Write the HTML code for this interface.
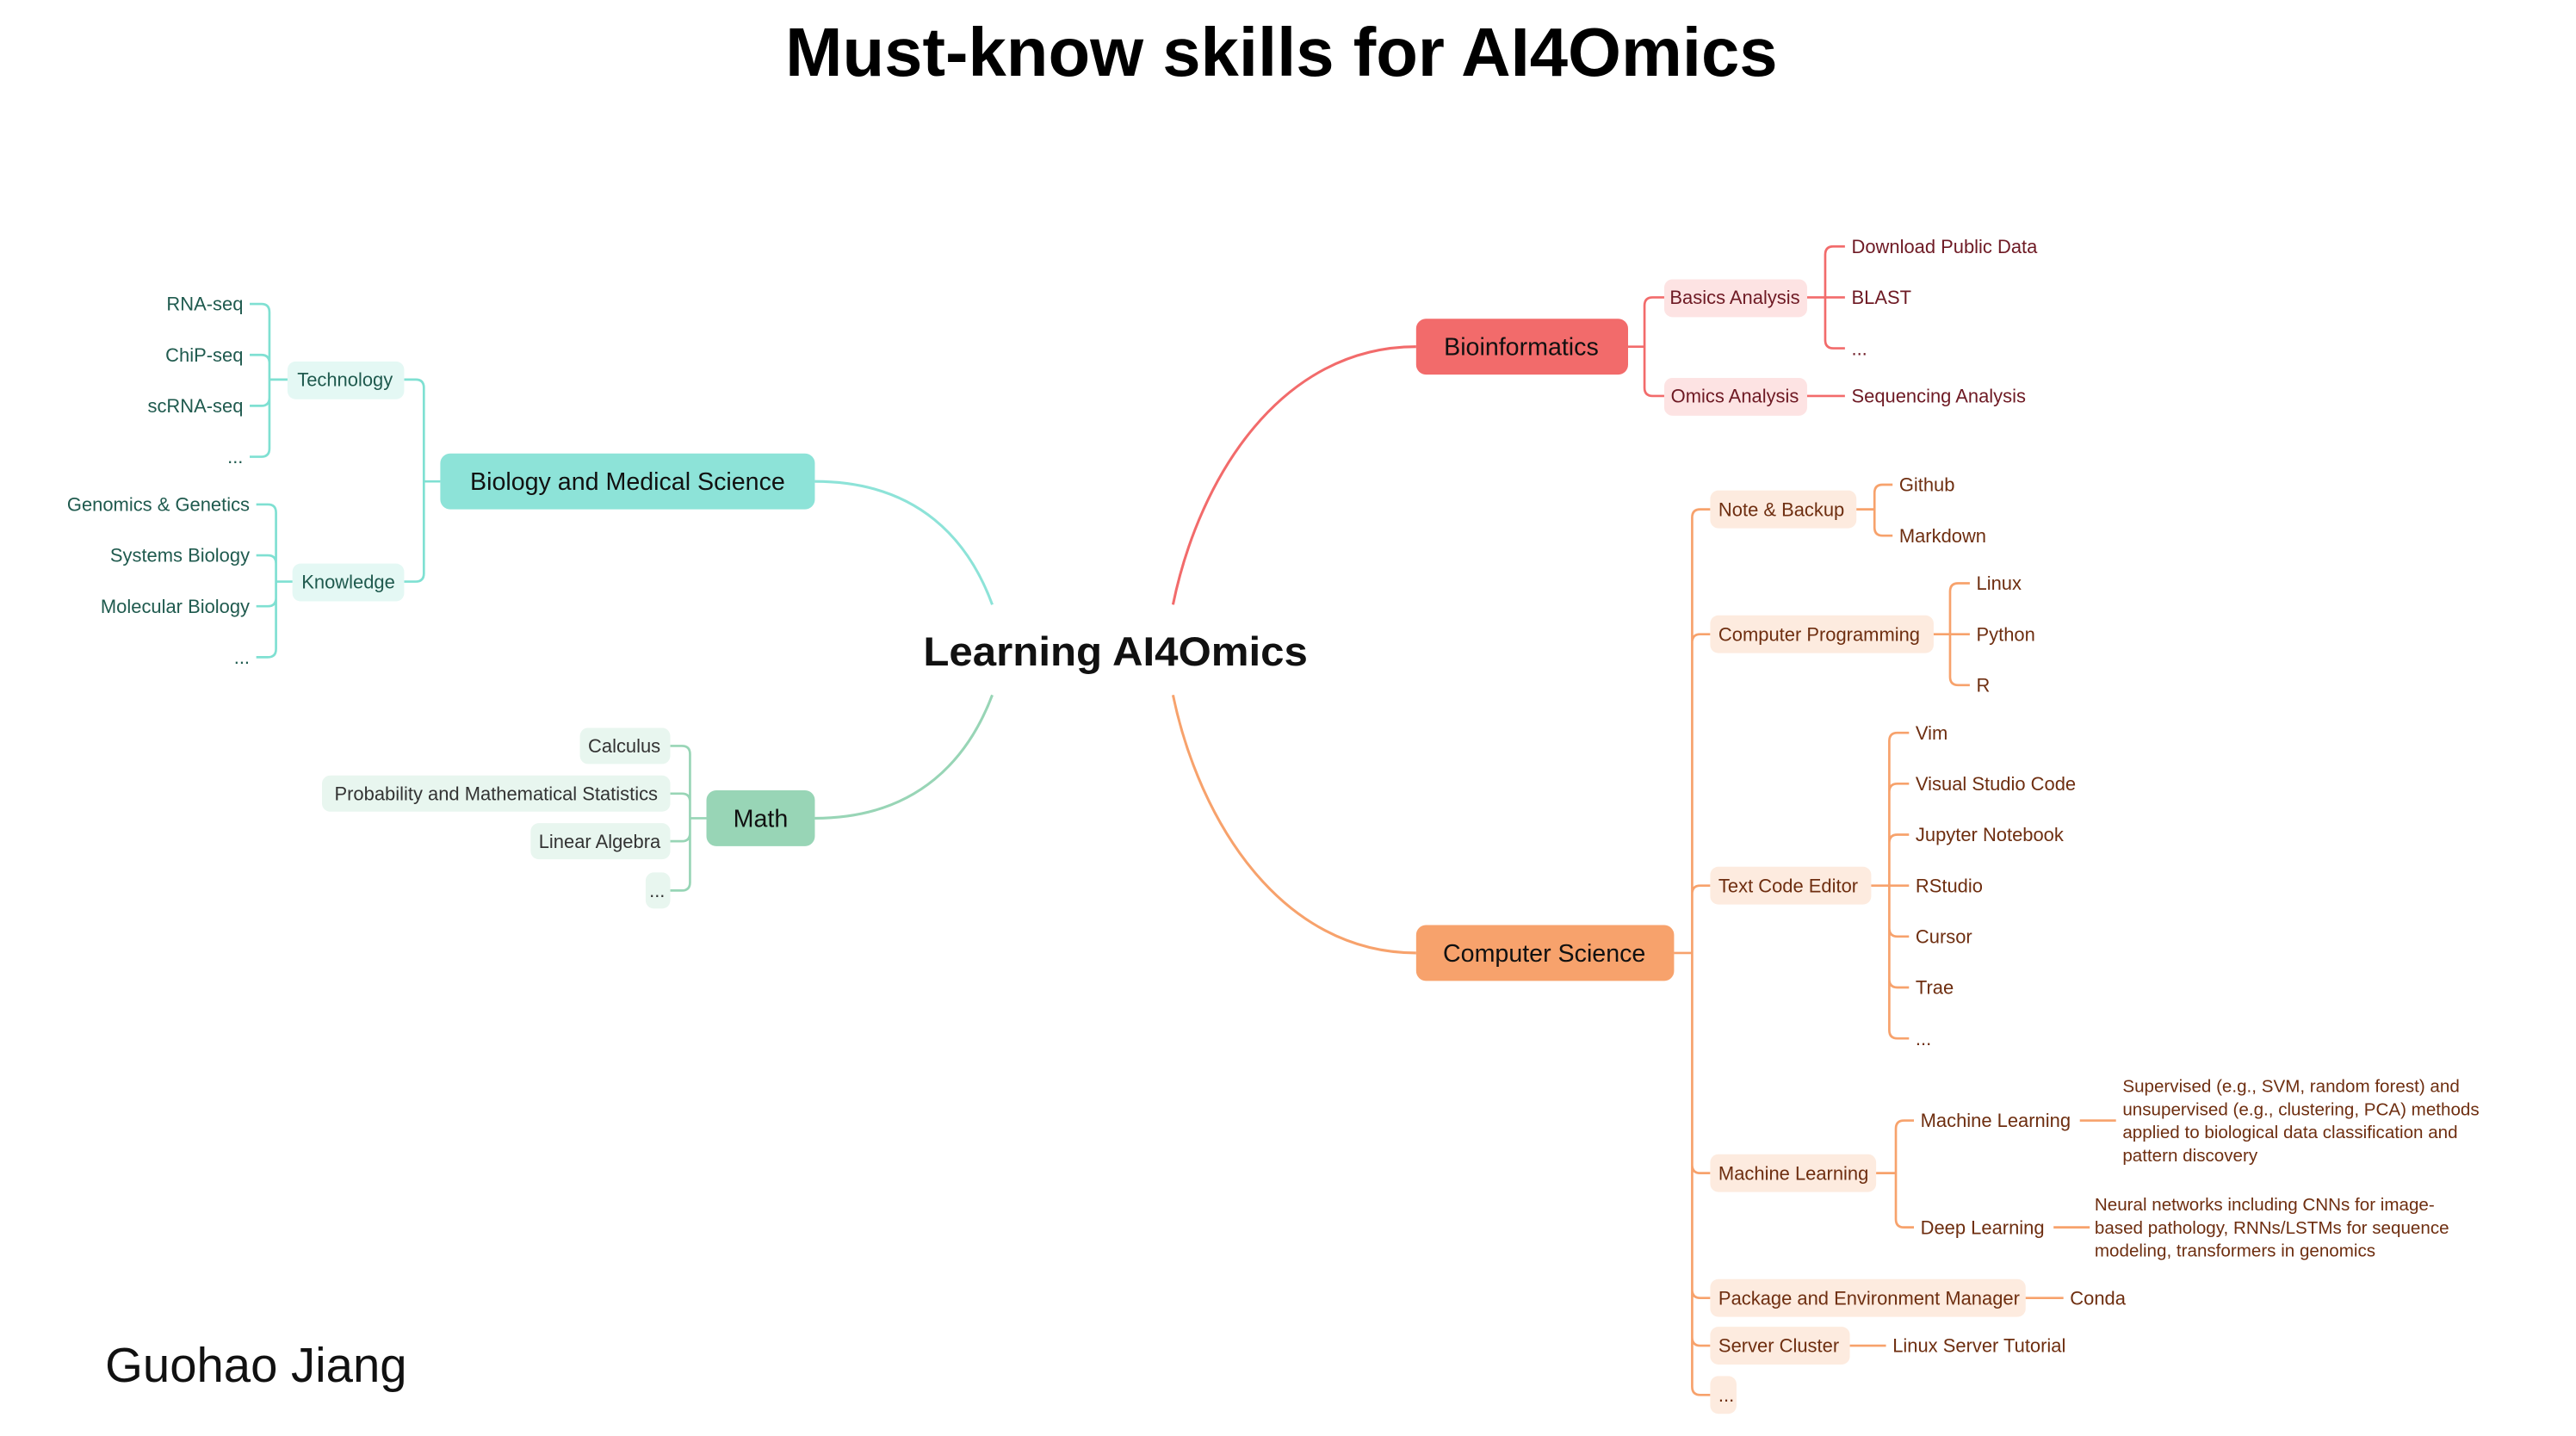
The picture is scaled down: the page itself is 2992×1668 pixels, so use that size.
<!DOCTYPE html>
<html><head><meta charset="utf-8"><style>
html,body{margin:0;padding:0;background:#fff;}
svg{display:block;}
text{font-family:"Liberation Sans",sans-serif;}
</style></head><body>
<svg id="s" width="2992" height="1668" viewBox="0 0 1568 874" preserveAspectRatio="none" xmlns="http://www.w3.org/2000/svg">
<text x="780" y="46" text-anchor="middle" font-size="42" font-weight="bold" fill="#000" textLength="604" lengthAdjust="spacingAndGlyphs">Must-know skills for AI4Omics</text>
<text x="679" y="405" text-anchor="middle" font-size="25" font-weight="bold" fill="#111" textLength="234" lengthAdjust="spacingAndGlyphs">Learning AI4Omics</text>
<text x="64" y="841" font-size="29.5" fill="#111">Guohao Jiang</text>
<path d="M496 293 C560 293 590 330 604 368" fill="none" stroke="#8de3d8" stroke-width="1.6"/>
<path d="M496 498 C560 498 590 460 604 423" fill="none" stroke="#98d5b6" stroke-width="1.6"/>
<path d="M714 368 C730 290 780 211 862 211" fill="none" stroke="#f26b6b" stroke-width="1.6"/>
<path d="M714 423 C730 500 780 580 862 580" fill="none" stroke="#f7a26c" stroke-width="1.6"/>
<g id="g"></g>
</svg>
<script>
var g=document.getElementById('g'),NS='http://www.w3.org/2000/svg';
function el(t,a,txt){var e=document.createElementNS(NS,t);for(var k in a)e.setAttribute(k,a[k]);if(txt)e.textContent=txt;g.appendChild(e);return e;}
function rect(x1,y1,x2,y2,f,r){el('rect',{x:x1,y:y1,width:x2-x1,height:y2-y1,rx:r||5,fill:f});}
function txt(x,y,s,sz,c,anc,w){el('text',{x:x,y:y+sz*0.35,'font-size':sz,fill:c,'text-anchor':anc||'start','font-weight':w||'normal'},s);}
function br(px,py,bx,kids,col,dir){var d='M'+px+' '+py+' H'+bx,r=5;
 kids.forEach(function(k){var cy=k[0],cx=k[1];
  if(Math.abs(cy-py)<1){d+=' M'+bx+' '+py+' H'+cx;return;}
  var sg=cy>py?1:-1;d+=' M'+bx+' '+py+' V'+(cy-sg*r)+' Q'+bx+' '+cy+' '+(bx+dir*r)+' '+cy+' H'+cx;});
 el('path',{d:d,fill:'none',stroke:col,'stroke-width':1.4});}
rect(268,276,496,310,'#8de3d8',6);txt(382,293,'Biology and Medical Science',15,'#111','middle');
rect(430,481,496,515,'#98d5b6',6);txt(463,498,'Math',15,'#111','middle');
rect(862,194,991,228,'#f26b6b',6);txt(926,211,'Bioinformatics',15,'#111','middle');
rect(862,563,1019,597,'#f7a26c',6);txt(940,580,'Computer Science',15,'#111','middle');
var T='#7fe0d2',TT='#1f5a4e',TF='#e4f8f4';
br(268,293,258,[[231,246],[354,246]],T,-1);
rect(175,220,246,243,TF,5);txt(210,231,'Technology',11.5,TT,'middle');
rect(178,343,246,366,TF,5);txt(212,354,'Knowledge',11.5,TT,'middle');
br(175,231,164,[[185,152],[216,152],[247,152],[278,152]],T,-1);
[['RNA-seq',185],['ChiP-seq',216],['scRNA-seq',247],['...',278]].forEach(function(a){txt(148,a[1],a[0],11.5,TT,'end');});
br(178,354,168,[[307,156],[338,156],[369,156],[400,156]],T,-1);
[['Genomics & Genetics',307],['Systems Biology',338],['Molecular Biology',369],['...',400]].forEach(function(a){txt(152,a[1],a[0],11.5,TT,'end');});
var M='#98d5b6',MF='#e8f6ef';
br(430,498,420,[[454,408],[483,408],[512,408],[542,408]],M,-1);
rect(353,443,408,465,MF,5);txt(380,454,'Calculus',11.5,'#333','middle');
rect(196,472,408,494,MF,5);txt(302,483,'Probability and Mathematical Statistics',11.5,'#333','middle');
rect(323,501,408,523,MF,5);txt(365,512,'Linear Algebra',11.5,'#333','middle');
rect(393,531,408,553,MF,5);txt(400,542,'...',11.5,'#333','middle');
var R='#f26b6b',RT='#6e1a24',RF='#fde3e3';
br(991,211,1001,[[181,1013],[241,1013]],R,1);
rect(1013,170,1100,193,RF,5);txt(1056,181,'Basics Analysis',11.5,RT,'middle');
rect(1013,230,1100,253,RF,5);txt(1056,241,'Omics Analysis',11.5,RT,'middle');
br(1100,181,1111,[[150,1123],[181,1123],[212,1123]],R,1);
txt(1127,150,'Download Public Data',11.5,RT);txt(1127,181,'BLAST',11.5,RT);txt(1127,212,'...',11.5,RT);
br(1100,241,1123,[],R,1);txt(1127,241,'Sequencing Analysis',11.5,RT);
var O='#f7a26c',OT='#6e2e10',OF='#fdebdf';
br(1019,580,1030,[[310,1041],[386,1041],[539,1041],[714,1041],[790,1041],[819,1041],[849,1041]],O,1);
function ob(x2,y,s){rect(1041,y-11.5,x2,y+11.5,OF,5);txt(1046,y,s,11.5,OT);}
ob(1130,310,'Note & Backup');ob(1177,386,'Computer Programming');ob(1139,539,'Text Code Editor');ob(1142,714,'Machine Learning');ob(1233,790,'Package and Environment Manager');ob(1126,819,'Server Cluster');ob(1057,849,'...');
br(1130,310,1141,[[295,1152],[326,1152]],O,1);txt(1156,295,'Github',11.5,OT);txt(1156,326,'Markdown',11.5,OT);
br(1177,386,1187,[[355,1199],[386,1199],[417,1199]],O,1);txt(1203,355,'Linux',11.5,OT);txt(1203,386,'Python',11.5,OT);txt(1203,417,'R',11.5,OT);
var ed=[['Vim',446],['Visual Studio Code',477],['Jupyter Notebook',508],['RStudio',539],['Cursor',570],['Trae',601],['...',632]];
br(1139,539,1150,ed.map(function(a){return [a[1],1162];}),O,1);ed.forEach(function(a){txt(1166,a[1],a[0],11.5,OT);});
br(1142,714,1154,[[682,1165],[747,1165]],O,1);txt(1169,682,'Machine Learning',11.5,OT);txt(1169,747,'Deep Learning',11.5,OT);
br(1266,682,1288,[],O,1);br(1250,747,1272,[],O,1);
['Supervised (e.g., SVM, random forest) and','unsupervised (e.g., clustering, PCA) methods','applied to biological data classification and','pattern discovery'].forEach(function(s,i){txt(1292,661+i*14,s,10.8,OT);});
['Neural networks including CNNs for image-','based pathology, RNNs/LSTMs for sequence','modeling, transformers in genomics'].forEach(function(s,i){txt(1275,733+i*14,s,10.8,OT);});
br(1233,790,1256,[],O,1);txt(1260,790,'Conda',11.5,OT);
br(1126,819,1148,[],O,1);txt(1152,819,'Linux Server Tutorial',11.5,OT);
</script>
</body></html>
